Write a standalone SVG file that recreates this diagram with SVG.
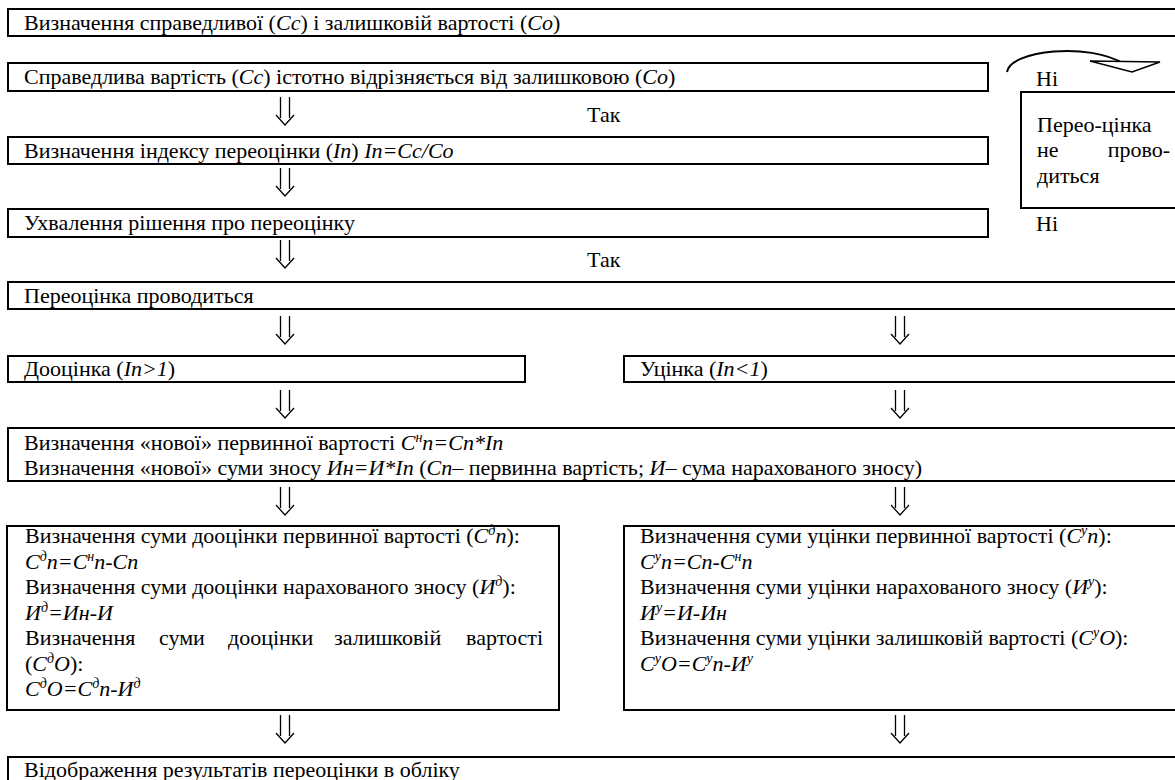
<svg xmlns="http://www.w3.org/2000/svg" xmlns:xlink="http://www.w3.org/1999/xlink" width="1175" height="780" viewBox="0 0 1175 780">
<style>
text{font-family:"Liberation Serif","Times New Roman",serif;font-size:22px;fill:#000}
.i{font-style:italic}
.s{font-size:14px}
.box{fill:#fff;stroke:#000;stroke-width:2}
.ar{fill:none;stroke:#000;stroke-width:1.3}
.cv{fill:none;stroke:#000;stroke-width:2}
</style>
<defs>
<path id="dn" class="ar" d="M-4.5,0V21M4.5,0V21M-9,18L0,28L9,18"/>
</defs>
<rect width="1175" height="780" fill="#fff"/>

<g id="n1"><rect class="box" x="8" y="9" width="1180" height="27"/>
<text x="24" y="30">Визначення справедливої (<tspan class="i">Cc</tspan>) і залишковій вартості (<tspan class="i">Co</tspan>)</text></g>

<g id="n2"><rect class="box" x="8" y="63" width="980" height="28"/>
<text x="24" y="84">Справедлива вартість (<tspan class="i">Cc</tspan>) істотно відрізняється від залишковою (<tspan class="i">Co</tspan>)</text></g>

<g id="n3"><rect class="box" x="8" y="137" width="980" height="27"/>
<text x="24" y="158">Визначення індексу переоцінки (<tspan class="i">In</tspan>) <tspan class="i">In=Cc/Co</tspan></text></g>

<g id="n4"><rect class="box" x="8" y="209" width="980" height="28"/>
<text x="24" y="230">Ухвалення рішення про переоцінку</text></g>

<g id="n5"><rect class="box" x="8" y="282" width="1180" height="27"/>
<text x="24" y="303">Переоцінка проводиться</text></g>

<g id="n6"><rect class="box" x="1021" y="92" width="170" height="116"/>
<text x="1037" y="132">Перео-цінка</text>
<text x="1037" y="157">не</text><text x="1170" y="157" text-anchor="end">прово-</text>
<text x="1037" y="183">диться</text></g>

<g id="n7"><rect class="box" x="8" y="356" width="517" height="26"/>
<text x="24" y="376">Дооцінка (<tspan class="i">In&gt;1</tspan>)</text></g>

<g id="n8"><rect class="box" x="624" y="356" width="560" height="26"/>
<text x="640" y="376">Уцінка (<tspan class="i">In&lt;1</tspan>)</text></g>

<g id="n9"><rect class="box" x="8" y="428" width="1180" height="53"/>
<text x="24" y="450">Визначення «нової» первинної вартості <tspan class="i">C<tspan class="s" dy="-8">н</tspan><tspan dy="8">n=Cn*In</tspan></tspan></text>
<text x="24" y="475">Визначення «нової» суми зносу <tspan class="i">Ин=И*In</tspan> (<tspan class="i">Cn</tspan>– первинна вартість; <tspan class="i">И</tspan>– сума нарахованого зносу)</text></g>

<g id="n10"><rect class="box" x="7" y="526" width="552" height="184"/>
<text x="25" y="543">Визначення суми дооцінки первинної вартості (<tspan class="i">C<tspan class="s" dy="-8">д</tspan><tspan dy="8">n</tspan></tspan>):</text>
<text x="25" y="568.5" class="i">C<tspan class="s" dy="-8">д</tspan><tspan dy="8">n=C</tspan><tspan class="s" dy="-8">н</tspan><tspan dy="8">n-Cn</tspan></text>
<text x="25" y="594">Визначення суми дооцінки нарахованого зносу (<tspan class="i">И<tspan class="s" dy="-8">д</tspan></tspan><tspan dy="8">):</tspan></text>
<text x="25" y="619.5" class="i">И<tspan class="s" dy="-8">д</tspan><tspan dy="8">=Ин-И</tspan></text>
<text x="25" y="645">Визначення</text><text x="159" y="645">суми</text><text x="228" y="645">дооцінки</text><text x="334" y="645">залишковій</text><text x="543" y="645" text-anchor="end">вартості</text>
<text x="25" y="670.5">(<tspan class="i">C<tspan class="s" dy="-8">д</tspan><tspan dy="8">O</tspan></tspan>):</text>
<text x="25" y="696" class="i">C<tspan class="s" dy="-8">д</tspan><tspan dy="8">O=C</tspan><tspan class="s" dy="-8">д</tspan><tspan dy="8">n-И</tspan><tspan class="s" dy="-8">д</tspan></text></g>

<g id="n11"><rect class="box" x="624" y="526" width="560" height="184"/>
<text x="640" y="543">Визначення суми уцінки первинної вартості (<tspan class="i">C<tspan class="s" dy="-8">у</tspan><tspan dy="8">n</tspan></tspan>):</text>
<text x="640" y="568.5" class="i">C<tspan class="s" dy="-8">у</tspan><tspan dy="8">n=Cn-C</tspan><tspan class="s" dy="-8">н</tspan><tspan dy="8">n</tspan></text>
<text x="640" y="594">Визначення суми уцінки нарахованого зносу (<tspan class="i">И<tspan class="s" dy="-8">у</tspan></tspan><tspan dy="8">):</tspan></text>
<text x="640" y="619.5" class="i">И<tspan class="s" dy="-8">у</tspan><tspan dy="8">=И-Ин</tspan></text>
<text x="640" y="645">Визначення суми уцінки залишковій вартості (<tspan class="i">C<tspan class="s" dy="-8">у</tspan><tspan dy="8">O</tspan></tspan>):</text>
<text x="640" y="670.5" class="i">C<tspan class="s" dy="-8">у</tspan><tspan dy="8">O=C</tspan><tspan class="s" dy="-8">у</tspan><tspan dy="8">n-И</tspan><tspan class="s" dy="-8">у</tspan></text></g>

<g id="n12"><rect class="box" x="8" y="757" width="1180" height="40"/>
<text x="24" y="777">Відображення результатів переоцінки в обліку</text></g>

<g id="labels">
<text x="587" y="122">Так</text>
<text x="587" y="267">Так</text>
<text x="1036" y="86">Ні</text>
<text x="1036" y="231">Ні</text>
</g>

<g id="connectors">
<use xlink:href="#dn" x="285" y="97"/>
<use xlink:href="#dn" x="285" y="168"/>
<use xlink:href="#dn" x="285" y="240"/>
<use xlink:href="#dn" x="285" y="316"/>
<use xlink:href="#dn" x="900" y="316"/>
<use xlink:href="#dn" x="285" y="390"/>
<use xlink:href="#dn" x="900" y="390"/>
<use xlink:href="#dn" x="285" y="487"/>
<use xlink:href="#dn" x="900" y="487"/>
<use xlink:href="#dn" x="285" y="715"/>
<use xlink:href="#dn" x="900" y="715"/>
<path class="cv" d="M1007,72C1010,50 1090,42 1124,64"/>
<path d="M1090,61L1160,62L1132,72Z" fill="#fff" stroke="#000" stroke-width="1.5"/>
</g>
</svg>
